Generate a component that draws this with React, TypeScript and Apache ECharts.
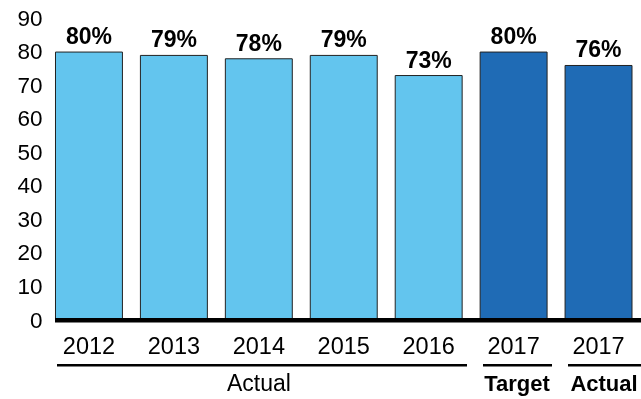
import React, { useEffect, useRef } from "react";
import * as echarts from "echarts";

const categories = ["2012", "2013", "2014", "2015", "2016", "2017", "2017"];
const values = [80, 79, 78, 79, 73, 80, 76];
const barColors = ["#63C5EE", "#63C5EE", "#63C5EE", "#63C5EE", "#63C5EE", "#1F6BB5", "#1F6BB5"];
const groupLabels = ["Actual", "Target", "Actual"];
const yTicks = { min: 0, max: 90, interval: 10 };

export default function App() {
  const ref = useRef<HTMLDivElement>(null);
  useEffect(() => {
    if (!ref.current) return;
    const chart = echarts.init(ref.current, null, { renderer: "svg" });
    const font = "'Liberation Sans', Arial, sans-serif";
    chart.setOption({
      animation: false,
      grid: { left: 46.5, right: -5.5, top: 18, bottom: 79 },
      xAxis: {
        type: "category",
        data: categories,
        axisLine: { show: false },
        axisTick: { show: false },
        axisLabel: { color: "#000", fontSize: 23.5, fontFamily: font, margin: 14 },
      },
      yAxis: {
        type: "value",
        min: yTicks.min,
        max: yTicks.max,
        interval: yTicks.interval,
        splitLine: { show: false },
        axisLine: { show: false },
        axisTick: { show: false },
        axisLabel: { color: "#000", fontSize: 22.5, fontFamily: font, margin: 4 },
      },
      series: [
        {
          type: "bar",
          barCategoryGap: "20%",
          data: values.map((v, i) => ({
            value: v,
            itemStyle: { color: barColors[i], borderColor: "#222", borderWidth: 1 },
          })),
          label: {
            show: true,
            position: "top",
            distance: 4,
            formatter: (p: any) => p.value + "%",
            color: "#000",
            fontWeight: "bold",
            fontSize: 23,
            fontFamily: font,
          },
        },
      ],
      graphic: [
        { type: "rect", shape: { x: 55, y: 318, width: 590, height: 4.5 }, style: { fill: "#000" }, z: 100 },
        { type: "rect", shape: { x: 57, y: 364, width: 410, height: 2.5 }, style: { fill: "#000" } },
        { type: "rect", shape: { x: 483, y: 364, width: 69, height: 2.5 }, style: { fill: "#000" } },
        { type: "rect", shape: { x: 568, y: 364, width: 73, height: 2.5 }, style: { fill: "#000" } },
        {
          type: "text", x: 259, y: 383,
          style: { text: groupLabels[0], fill: "#000", font: `23px ${font}`, textAlign: "center", textVerticalAlign: "middle" },
        },
        {
          type: "text", x: 517, y: 383,
          style: { text: groupLabels[1], fill: "#000", font: `bold 22px ${font}`, textAlign: "center", textVerticalAlign: "middle" },
        },
        {
          type: "text", x: 604, y: 383,
          style: { text: groupLabels[2], fill: "#000", font: `bold 22px ${font}`, textAlign: "center", textVerticalAlign: "middle" },
        },
      ],
    });
    return () => chart.dispose();
  }, []);
  return <div ref={ref} style={{ position: "fixed", left: 0, top: 0, width: 641, height: 399 }} />;
}
